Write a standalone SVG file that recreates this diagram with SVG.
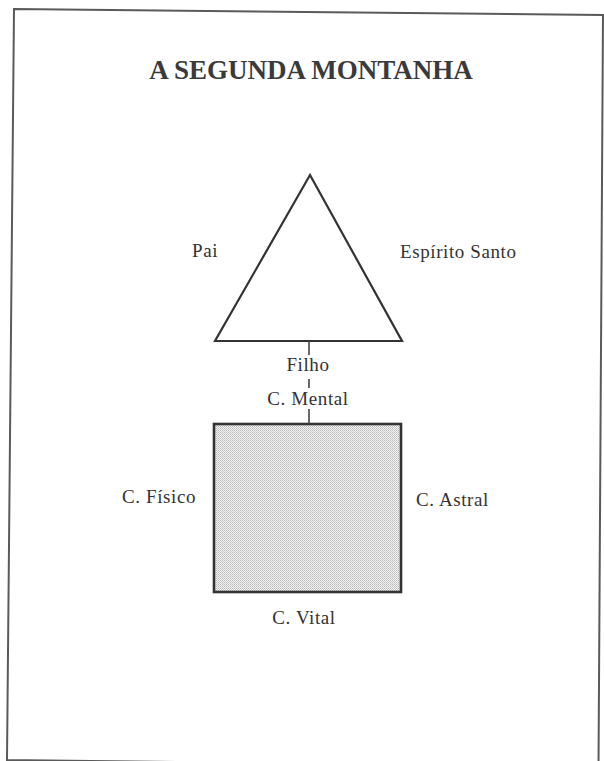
<svg xmlns="http://www.w3.org/2000/svg" width="604" height="761" viewBox="0 0 604 761">
<defs>
<pattern id="dots" width="2" height="2" patternUnits="userSpaceOnUse">
<rect width="2" height="2" fill="#f0f0f0"/>
<rect width="1" height="1" fill="#bcbcbc"/>
<rect x="1" y="1" width="1" height="1" fill="#d0d0d0"/>
</pattern>
</defs>
<style>
.lbl{font-family:"Liberation Serif","Times New Roman",serif;font-size:19px;fill:#333;letter-spacing:0.6px}
.title{font-family:"Liberation Serif","Times New Roman",serif;font-size:27px;font-weight:bold;fill:#3a3a3a}
.shape{stroke:#333;stroke-width:2.2;fill:none;stroke-linejoin:miter}
.conn{stroke:#444;stroke-width:1.6;fill:none}
</style>
<rect width="604" height="761" fill="#ffffff"/>
<polygon points="14,9 603,15 598.5,767 7,760" fill="none" stroke="#5a5a5a" stroke-width="2"/>
<text class="title" x="311" y="79" text-anchor="middle">A SEGUNDA MONTANHA</text>
<g id="triangle">
<polygon class="shape" points="310,175 215,341 402,341"/>
</g>
<g id="square">
<rect x="214" y="424" width="187" height="168" fill="url(#dots)" stroke="#333" stroke-width="2.6"/>
</g>
<g id="connectors">
<line class="conn" x1="309" y1="341" x2="309" y2="355"/>
<line class="conn" x1="309" y1="379" x2="309" y2="388"/>
<line class="conn" x1="309" y1="409" x2="309" y2="424"/>
</g>
<g id="labels">
<text class="lbl" x="192" y="257">Pai</text>
<text class="lbl" x="400" y="258">Espírito Santo</text>
<text class="lbl" x="308" y="371" text-anchor="middle">Filho</text>
<text class="lbl" x="308" y="405" text-anchor="middle">C. Mental</text>
<text class="lbl" x="122" y="503">C. Físico</text>
<text class="lbl" x="416" y="506">C. Astral</text>
<text class="lbl" x="304" y="624" text-anchor="middle">C. Vital</text>
</g>
</svg>
